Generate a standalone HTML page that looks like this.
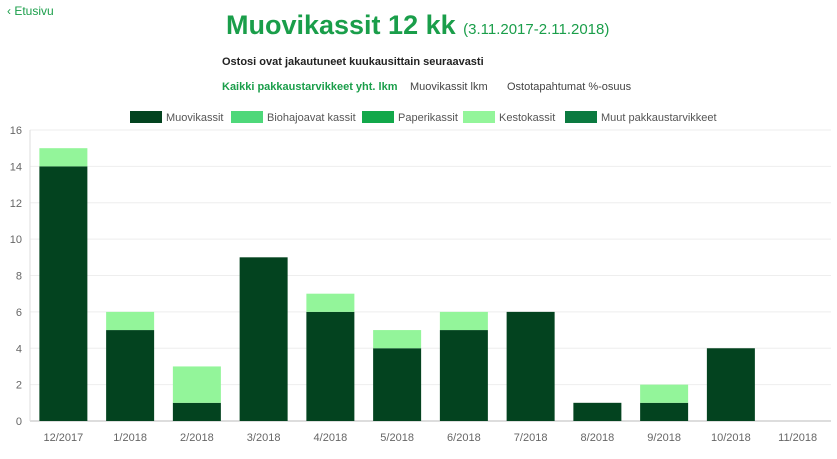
<!DOCTYPE html>
<html><head><meta charset="utf-8">
<style>
body{margin:0;width:837px;height:459px;background:#fff;font-family:"Liberation Sans",sans-serif;overflow:hidden;position:relative}
.abs{position:absolute;white-space:nowrap}
</style></head><body>
<div class="abs" style="left:7px;top:4px;font-size:12px;color:#1a9e4a">&#8249; Etusivu</div>
<div class="abs" style="left:226px;top:10px;font-size:27px;font-weight:bold;color:#1a9e4a">Muovikassit 12 kk <span style="font-size:15px;font-weight:normal">(3.11.2017-2.11.2018)</span></div>
<div class="abs" style="left:222px;top:56px;font-size:11px;font-weight:bold;color:#222">Ostosi ovat jakautuneet kuukausittain seuraavasti</div>
<div class="abs" style="left:222px;top:81px;font-size:11px;font-weight:bold;color:#1a9e4a">Kaikki pakkaustarvikkeet yht. lkm</div>
<div class="abs" style="left:410px;top:81px;font-size:11px;color:#444">Muovikassit lkm</div>
<div class="abs" style="left:507px;top:81px;font-size:11px;color:#444">Ostotapahtumat %-osuus</div>
<svg id="chart" width="837" height="459" style="position:absolute;left:0;top:0"></svg>
<script>
const categories=["12/2017","1/2018","2/2018","3/2018","4/2018","5/2018","6/2018","7/2018","8/2018","9/2018","10/2018","11/2018"];
const muovikassit=[14,5,1,9,6,4,5,6,1,1,4,0];
const biohajoavat=[0,0,0,0,0,0,0,0,0,0,0,0];
const paperikassit=[0,0,0,0,0,0,0,0,0,0,0,0];
const kestokassit=[1,1,2,0,1,1,1,0,0,1,0,0];
const muut=[0,0,0,0,0,0,0,0,0,0,0,0];
const yTicks=[0,2,4,6,8,10,12,14,16];
const seriesNames=["Muovikassit","Biohajoavat kassit","Paperikassit","Kestokassit","Muut pakkaustarvikkeet"];
const seriesData=[muovikassit,biohajoavat,paperikassit,kestokassit,muut];
const colors=["#03431f","#4ed87a","#12a84a","#93f59a","#0b7a40"];
const NS="http://www.w3.org/2000/svg";
const svg=document.getElementById('chart');
const L=30,R=831,T=130,B=421,yMax=16;
const y=v=>B-(v/yMax)*(B-T);
const bw=(R-L)/categories.length;
const x=i=>L+bw*i+bw/2;
function mk(t,a){const e=document.createElementNS(NS,t);for(const k in a)e.setAttribute(k,a[k]);svg.appendChild(e);return e;}
yTicks.forEach(v=>{
 const g=mk('line',{x1:L,x2:R,y1:y(v),y2:y(v),stroke:v===0?'#bbb':'#eee','stroke-width':1});
 
 
 const t=mk('text',{x:L-8,y:y(v)+4,'text-anchor':'end','font-size':11,fill:'#666','font-family':'Liberation Sans, sans-serif'});
 t.textContent=v;
 
 
});
const ax=mk('line',{x1:L,x2:L,y1:T,y2:B,stroke:'#ddd'});


categories.forEach((c,i)=>{
 let base=0;
 seriesData.forEach((s,k)=>{
  const v=s[i];if(!v)return;
  const r=mk('rect',{x:x(i)-24,y:y(base+v),width:48,height:y(base)-y(base+v),fill:colors[k]});
  
  
  base+=v;
 });
 const t=mk('text',{x:x(i),y:441,'text-anchor':'middle','font-size':11,fill:'#666','font-family':'Liberation Sans, sans-serif'});
 t.textContent=c;
 
 
});
const legX=[130,231,362,463,565];
seriesNames.forEach((n,k)=>{
 const r=mk('rect',{x:legX[k],y:111,width:32,height:12,fill:colors[k]});
 
 
 const t=mk('text',{x:legX[k]+36,y:121,'font-size':11,fill:'#555','font-family':'Liberation Sans, sans-serif'});
 t.textContent=n;
 
 
});
</script>
</body></html>
